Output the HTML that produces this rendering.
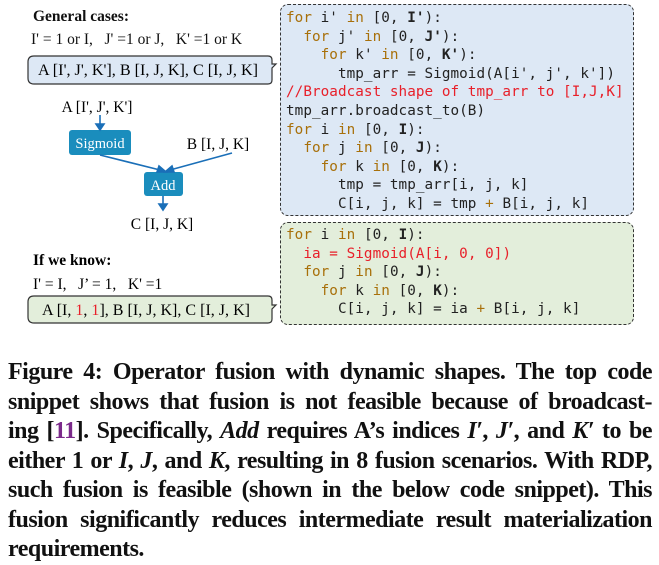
<!DOCTYPE html>
<html><head><meta charset="utf-8"><style>
body{margin:0;width:659px;height:562px;background:#fff;position:relative;overflow:hidden;font-family:"Liberation Serif",serif;color:#111}
.a{position:absolute;white-space:nowrap}
.code{position:absolute;border:1.3px dashed #333;border-radius:8px;box-sizing:border-box}
.code pre{margin:0;font-family:"DejaVu Sans Mono","Liberation Mono",monospace;font-size:14.3px;line-height:18.6px;color:#222;letter-spacing:0.05px}
.k{color:#a8700a}.r{color:#e8202a}.b{font-weight:bold;color:#222}
.cap{position:absolute;left:8px;width:644px;font-weight:bold;font-size:24px;line-height:29.5px;text-align:justify;text-align-last:justify;letter-spacing:-0.5px;white-space:nowrap}
</style></head><body>
<div class="a" style="left:33px;top:8px;font-weight:bold;font-size:15.5px">General cases:</div>
<div class="a" style="left:31px;top:31px;font-size:15.5px">I' = 1 or I,&nbsp;&nbsp; J' =1 or J,&nbsp;&nbsp; K' =1 or K</div>
<svg class="a" style="left:0;top:0" width="280" height="340">
<path d="M34 56 H268 Q272 56 272 60 V64 L276 64 L272 68 V80 Q272 84 268 84 H34 Q28 84 28 78 V62 Q28 56 34 56Z" fill="#dde8f5" stroke="#333" stroke-width="1.2"/>
<path d="M34 296 H268 Q272 296 272 300 V305 L276 305 L272 309 V319 Q272 323 268 323 H34 Q28 323 28 317 V302 Q28 296 34 296Z" fill="#e3eedb" stroke="#333" stroke-width="1.2"/>
<rect x="69" y="130" width="62" height="25" rx="3" fill="#1a8dbd"/>
<rect x="144" y="172" width="39" height="24" rx="3" fill="#1a8dbd"/>
<g stroke="#1a6fb8" stroke-width="1.6" fill="#1a6fb8">
<line x1="100" y1="115" x2="100" y2="125"/><path d="M96 124 L104 124 L100 130Z"/>
<line x1="100" y1="155" x2="160" y2="170"/><line x1="232" y1="153" x2="170" y2="170"/>
<path d="M159 166 L166 172 L157 172Z"/><path d="M172 166 L165 172 L174 172Z"/>
<line x1="163" y1="196" x2="163" y2="205"/><path d="M159 204 L167 204 L163 210Z"/>
</g>
<text x="38" y="75" font-size="15.5" textLength="220" lengthAdjust="spacingAndGlyphs" font-family="Liberation Serif">A [I', J', K'], B [I, J, K], C [I, J, K]</text>
<text x="97" y="112" font-size="15.5" text-anchor="middle" font-family="Liberation Serif">A [I', J', K']</text>
<text x="100" y="148" font-size="14.5" fill="#fff" text-anchor="middle" font-family="Liberation Serif">Sigmoid</text>
<text x="218" y="149" font-size="15.5" text-anchor="middle" font-family="Liberation Serif">B [I, J, K]</text>
<text x="163" y="190" font-size="14.5" fill="#fff" text-anchor="middle" font-family="Liberation Serif">Add</text>
<text x="162" y="229" font-size="15.5" text-anchor="middle" font-family="Liberation Serif">C [I, J, K]</text>
<text x="33" y="265" font-size="15.5" font-weight="bold" font-family="Liberation Serif">If we know:</text>
<text x="33" y="289" font-size="15.5" font-family="Liberation Serif">I' = I,&#160;&#160; J’ = 1,&#160;&#160; K' =1</text>
<text x="42" y="315" font-size="15.5" textLength="208" lengthAdjust="spacingAndGlyphs" font-family="Liberation Serif">A [I, <tspan fill="#e8202a">1</tspan>, <tspan fill="#e8202a">1</tspan>], B [I, J, K], C [I, J, K]</text>
</svg>
<div class="code" style="left:280px;top:4px;width:354px;height:212px;background:#dde8f5;padding:4px 0 0 5px">
<pre><span class="k">for</span> i' <span class="k">in</span> [0, <span class="b">I'</span>):
  <span class="k">for</span> j' <span class="k">in</span> [0, <span class="b">J'</span>):
    <span class="k">for</span> k' <span class="k">in</span> [0, <span class="b">K'</span>):
      tmp_arr = Sigmoid(A[i', j', k'])
<span class="r">//Broadcast shape of tmp_arr to [I,J,K]</span>
tmp_arr.broadcast_to(B)
<span class="k">for</span> i <span class="k">in</span> [0, <span class="b">I</span>):
  <span class="k">for</span> j <span class="k">in</span> [0, <span class="b">J</span>):
    <span class="k">for</span> k <span class="k">in</span> [0, <span class="b">K</span>):
      tmp = tmp_arr[i, j, k]
      C[i, j, k] = tmp <span class="k">+</span> B[i, j, k]</pre></div>
<div class="code" style="left:280px;top:222px;width:354px;height:103px;background:#e3eedb;padding:3px 0 0 5px">
<pre><span class="k">for</span> i <span class="k">in</span> [0, <span class="b">I</span>):
  <span class="r">ia = Sigmoid(A[i, 0, 0])</span>
  <span class="k">for</span> j <span class="k">in</span> [0, <span class="b">J</span>):
    <span class="k">for</span> k <span class="k">in</span> [0, <span class="b">K</span>):
      C[i, j, k] = ia <span class="k">+</span> B[i, j, k]</pre></div>
<div class="cap" style="top:358px">Figure 4: Operator fusion with dynamic shapes. The top code</div>
<div class="cap" style="top:388px">snippet shows that fusion is not feasible because of broadcast-</div>
<div class="cap" style="top:417px">ing [<span style="color:#7b2a8a">11</span>]. Specifically, <i>Add</i> requires A’s indices <i>I′</i>, <i>J′</i>, and <i>K′</i> to be</div>
<div class="cap" style="top:447px">either 1 or <i>I</i>, <i>J</i>, and <i>K</i>, resulting in 8 fusion scenarios. With RDP,</div>
<div class="cap" style="top:476px">such fusion is feasible (shown in the below code snippet). This</div>
<div class="cap" style="top:506px">fusion significantly reduces intermediate result materialization</div>
<div class="cap" style="top:535px;text-align-last:left">requirements.</div>
</body></html>
